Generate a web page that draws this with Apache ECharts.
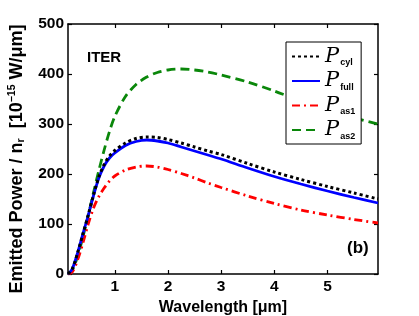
<!DOCTYPE html>
<html>
<head>
<meta charset="utf-8">
<script src="https://cdn.jsdelivr.net/npm/echarts@6/dist/echarts.min.js"></script>
<style>html,body{margin:0;padding:0;background:#fff}#c{width:419px;height:316px}</style>
</head>
<body>
<div id="c"></div>
<script>
// Wavelength [µm]
const wavelength = [0.12,0.2,0.3,0.4,0.5,0.6,0.7,0.8,0.9,1.0,1.2,1.4,1.6,1.8,2.0,2.25,2.5,2.75,3.0,3.5,4.0,4.5,5.0,5.5,5.95];
const Pcyl  = [0,10,42,80,118,158,194,219,236,247,262,271,274,273,269,262,254,246,239,221,204,189,175,162,150];
const Pfull = [0,10,42,80,117,157,192,216,232,242,257,265,268,266,262,254,246,238,230,212,195,180,166,153,142];
const Pas1  = [0,4,28,62,100,132,155,172,186,196,208,214,216,214,209,201,192,182,173,156,141,128,118,109,102];
const Pas2  = [0,8,35,74,117,163,207,248,285,315,355,379,394,403,408,410,408,404,398,384,366,346,327,312,300];
const xTicks = [1,2,3,4,5];
const seriesNames = ['cyl','full','as1','as2'];

const pair = ys => wavelength.map((x,i)=>[x,ys[i]]);
const FONT = 'Liberation Sans, Arial, sans-serif';

const chart = echarts.init(document.getElementById('c'), null, {renderer:'canvas'});
const axisLine = {show:true, onZero:false, lineStyle:{color:'#000', width:1.5}};
const tick = {show:true, inside:true, length:4, lineStyle:{color:'#000', width:1.2}};

chart.setOption({
  animation:false,
  backgroundColor:'#fff',
  grid:{left:68, top:24, right:41, bottom:42, containLabel:false, outerBoundsMode:'none'},
  xAxis:[{
    type:'value', min:0.12, max:5.95, position:'bottom',
    axisLine, axisTick:Object.assign({customValues:xTicks}, tick),
    axisLabel:{customValues:xTicks, color:'#000', fontFamily:FONT, fontWeight:'bold', fontSize:15.5, margin:5},
    splitLine:{show:false},
    name:'Wavelength [μm]', nameLocation:'middle', nameGap:21,
    nameTextStyle:{color:'#000', fontFamily:FONT, fontWeight:'bold', fontSize:16}
  },{
    type:'value', min:0.12, max:5.95, position:'top',
    axisLine, axisTick:Object.assign({customValues:xTicks}, tick),
    axisLabel:{show:false}, splitLine:{show:false}
  }],
  yAxis:[{
    type:'value', min:0, max:500, interval:100, position:'left',
    axisLine, axisTick:tick,
    axisLabel:{color:'#000', fontFamily:FONT, fontWeight:'bold', fontSize:15.5, margin:4},
    splitLine:{show:false},
    name:'{a|Emitted Power / n}{s|r}{a|  [10}{u|−15}{a| W/μm]}',
    nameLocation:'middle', nameGap:41, nameRotate:90,
    nameTextStyle:{
      color:'#000', fontFamily:FONT, fontWeight:'bold', fontSize:18,
      padding:[0,20,0,0],
      rich:{
        a:{fontFamily:FONT, fontWeight:'bold', fontSize:18, color:'#000', lineHeight:20, verticalAlign:'middle'},
        s:{fontFamily:FONT, fontWeight:'bold', fontSize:10.5, color:'#000', lineHeight:20, verticalAlign:'bottom', padding:[11,0,0,0]},
        u:{fontFamily:FONT, fontWeight:'bold', fontSize:10.5, color:'#000', lineHeight:20, verticalAlign:'top', padding:[0,0,9,0]}
      }
    }
  },{
    type:'value', min:0, max:500, interval:100, position:'right',
    axisLine, axisTick:tick, axisLabel:{show:false}, splitLine:{show:false}
  }],
  legend:{
    data:seriesNames, orient:'vertical', left:286, top:42,
    backgroundColor:'#fff', borderColor:'#000', borderWidth:1,
    padding:[4,6,3,5], itemGap:3, itemWidth:28, itemHeight:14,
    itemStyle:{opacity:0},
    formatter: n => '{p|P}{s|' + n + '}',
    textStyle:{
      color:'#000',
      rich:{
        p:{fontFamily:'DejaVu Serif, serif', fontStyle:'italic', fontSize:21, color:'#000', lineHeight:22, verticalAlign:'middle'},
        s:{fontFamily:FONT, fontWeight:'bold', fontSize:9, color:'#000', lineHeight:22, verticalAlign:'bottom', padding:[8,0,0,1]}
      }
    }
  },
  graphic:[
    {type:'text', left:87, top:50, style:{text:'ITER', font:'bold 15px ' + FONT, fill:'#000'}},
    {type:'text', left:347, top:240, style:{text:'(b)', font:'bold 17px ' + FONT, fill:'#000'}}
  ],
  series:[
    {name:'as2', type:'line', data:pair(Pas2), showSymbol:false, symbol:'none', smooth:0.3,
     lineStyle:{color:'#0a870a', width:2.8, type:[9,5]}, itemStyle:{color:'#0a870a'}},
    {name:'as1', type:'line', data:pair(Pas1), showSymbol:false, symbol:'none', smooth:0.3,
     lineStyle:{color:'#ff0000', width:2.8, type:[8,4,2,4]}, itemStyle:{color:'#ff0000'}},
    {name:'full', type:'line', data:pair(Pfull), showSymbol:false, symbol:'none', smooth:0.3,
     lineStyle:{color:'#0000ff', width:2.8, type:'solid'}, itemStyle:{color:'#0000ff'}},
    {name:'cyl', type:'line', data:pair(Pcyl), showSymbol:false, symbol:'none', smooth:0.3,
     lineStyle:{color:'#000', width:3, type:[3,3]}, itemStyle:{color:'#000'}}
  ]
});
</script>
</body>
</html>
